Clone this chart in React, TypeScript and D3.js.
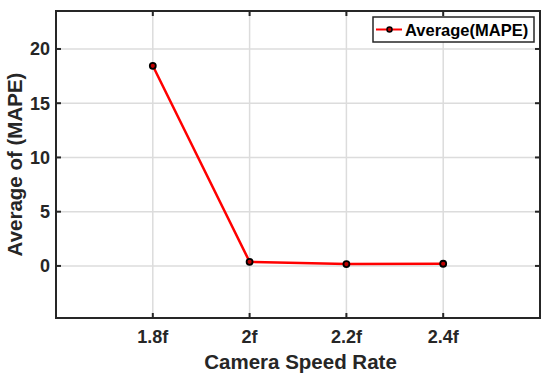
import React from "react";
import * as d3 from "d3";

// chart data
const categories = ["1.8f", "2f", "2.2f", "2.4f"];
const mapeValues = [18.45, 0.38, 0.17, 0.2];
const yTicks = [0, 5, 10, 15, 20];
const seriesName = "Average(MAPE)";

const W = 550;
const H = 380;
const margin = { left: 56, top: 11, right: 10, bottom: 62 };
const font = "'Liberation Sans', Arial, Helvetica, sans-serif";

export default function App() {
  const innerW = W - margin.left - margin.right;
  const innerH = H - margin.top - margin.bottom;

  // index -1..4 gives an empty slot on each side like the original
  const x = d3.scaleLinear().domain([-1, categories.length]).range([0, innerW]);
  const y = d3.scaleLinear().domain([-4.8, 23.5]).range([innerH, 0]);

  const line = d3
    .line<number>()
    .x((_, i) => x(i))
    .y((d) => y(d));

  const tickLen = 5;

  return (
    <svg
      width={W}
      height={H}
      style={{ position: "absolute", left: 0, top: 0, background: "#fff" }}
    >
      <g transform={`translate(${margin.left},${margin.top})`}>
        {/* grid */}
        {categories.map((c, i) => (
          <line
            key={`gx-${c}`}
            x1={x(i)}
            x2={x(i)}
            y1={0}
            y2={innerH}
            stroke="#dcdcdc"
            strokeWidth={1.5}
          />
        ))}
        {yTicks.map((t) => (
          <line
            key={`gy-${t}`}
            x1={0}
            x2={innerW}
            y1={y(t)}
            y2={y(t)}
            stroke="#dcdcdc"
            strokeWidth={1.5}
          />
        ))}

        {/* ticks, inward on all four sides */}
        {categories.map((c, i) => (
          <g key={`tx-${c}`}>
            <line x1={x(i)} x2={x(i)} y1={innerH} y2={innerH - tickLen} stroke="#262626" strokeWidth={2} />
            <line x1={x(i)} x2={x(i)} y1={0} y2={tickLen} stroke="#262626" strokeWidth={2} />
            <text
              x={x(i)}
              y={innerH + 25}
              textAnchor="middle"
              fontFamily={font}
              fontWeight="bold"
              fontSize={18}
              fill="#262626"
            >
              {c}
            </text>
          </g>
        ))}
        {yTicks.map((t) => (
          <g key={`ty-${t}`}>
            <line x1={0} x2={tickLen} y1={y(t)} y2={y(t)} stroke="#262626" strokeWidth={2} />
            <line x1={innerW} x2={innerW - tickLen} y1={y(t)} y2={y(t)} stroke="#262626" strokeWidth={2} />
            <text
              x={-6}
              y={y(t)}
              dy="0.35em"
              textAnchor="end"
              fontFamily={font}
              fontWeight="bold"
              fontSize={18}
              fill="#262626"
            >
              {t}
            </text>
          </g>
        ))}

        {/* series */}
        <path d={line(mapeValues) ?? ""} fill="none" stroke="#ff0000" strokeWidth={2.5} />
        {mapeValues.map((v, i) => (
          <circle
            key={`pt-${i}`}
            cx={x(i)}
            cy={y(v)}
            r={3}
            fill="#c00000"
            stroke="#000"
            strokeWidth={1.8}
          />
        ))}

        {/* box */}
        <rect x={0} y={0} width={innerW} height={innerH} fill="none" stroke="#262626" strokeWidth={2} />

        {/* legend */}
        <g transform={`translate(${373 - margin.left},${17 - margin.top})`}>
          <rect x={0} y={0} width={161} height={25} fill="#fff" stroke="#262626" strokeWidth={1.5} />
          <line x1={3} x2={29} y1={12.5} y2={12.5} stroke="#ff0000" strokeWidth={2} />
          <circle cx={16.5} cy={12.5} r={2.5} fill="#c00000" stroke="#000" strokeWidth={1.5} />
          <text
            x={32}
            y={13}
            dy="0.35em"
            fontFamily={font}
            fontWeight="bold"
            fontSize={16.5}
            fill="#000"
          >
            {seriesName}
          </text>
        </g>

        {/* axis titles */}
        <text
          x={(203 + 398) / 2 - margin.left}
          y={369 - margin.top}
          textAnchor="middle"
          fontFamily={font}
          fontWeight="bold"
          fontSize={20.5}
          fill="#262626"
        >
          Camera Speed Rate
        </text>
        <text
          transform={`translate(${22 - margin.left},${innerH / 2}) rotate(-90)`}
          textAnchor="middle"
          fontFamily={font}
          fontWeight="bold"
          fontSize={20.5}
          fill="#262626"
        >
          Average of (MAPE)
        </text>
      </g>
    </svg>
  );
}
